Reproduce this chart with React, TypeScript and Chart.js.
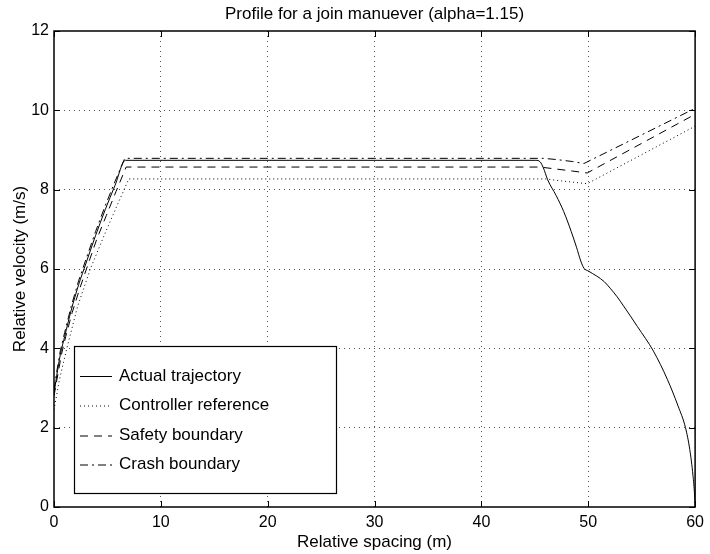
import React, { useEffect, useRef } from "react";
import { Chart, registerables } from "chart.js";

Chart.register(...registerables);

const titleText = "Profile for a join manuever (alpha=1.15)";
const xLabel = "Relative spacing (m)";
const yLabel = "Relative velocity (m/s)";
const xTicks = [0, 10, 20, 30, 40, 50, 60];
const yTicks = [0, 2, 4, 6, 8, 10, 12];

const actualX = [0, 0.25, 0.6, 1.0, 1.6, 2.3, 3.0, 3.9, 4.8, 5.7, 6.69, 45.1, 45.5, 45.8, 46.2, 47.0, 47.7, 48.4, 48.9, 49.3, 49.6, 50.0, 50.8, 51.5, 52.1, 52.7, 53.3, 54.6, 56.1, 57.4, 58.4, 59.1, 59.5, 59.8, 59.95, 60];
const actualY = [2.85, 3.3, 3.85, 4.3, 4.95, 5.6, 6.15, 6.85, 7.5, 8.1, 8.74, 8.74, 8.7, 8.55, 8.25, 7.85, 7.45, 6.95, 6.55, 6.2, 6.02, 5.95, 5.82, 5.68, 5.5, 5.3, 5.07, 4.55, 3.93, 3.22, 2.55, 2.0, 1.45, 0.8, 0.3, 0];

const refX = [0, 0.5, 1.2, 2.2, 3.4, 4.7, 5.9, 7.0, 46.0, 47.5, 49.9, 60];
const refY = [2.45, 3.2, 4.0, 5.05, 6.0, 6.85, 7.6, 8.27, 8.27, 8.22, 8.15, 9.6];

const safeX = [0, 0.3, 0.7, 1.1, 1.7, 2.4, 3.1, 4.0, 4.9, 5.8, 6.75, 45.5, 47.0, 48.5, 49.9, 60];
const safeY = [2.8, 3.25, 3.85, 4.3, 4.9, 5.5, 6.05, 6.75, 7.35, 7.95, 8.57, 8.57, 8.52, 8.47, 8.42, 9.9];

const crashX = [0, 0.25, 0.6, 1.0, 1.6, 2.3, 3.0, 3.9, 4.8, 5.7, 6.62, 45.8, 47.0, 48.5, 49.6, 60];
const crashY = [2.95, 3.4, 3.95, 4.4, 5.05, 5.7, 6.25, 6.95, 7.6, 8.2, 8.79, 8.79, 8.76, 8.71, 8.66, 10.05];

const seriesNames = ["Actual trajectory", "Controller reference", "Safety boundary", "Crash boundary"];
const seriesDash: number[][] = [[], [1, 3], [8, 6], [8, 4, 2, 4]];

const FONT = "'Liberation Sans', Arial, Helvetica, sans-serif";

function pts(xs: number[], ys: number[]) {
  return xs.map((x, i) => ({ x, y: ys[i] }));
}

const framePlugin = {
  id: "frame",
  afterDatasetsDraw(chart: any) {
    const { ctx, chartArea: a, scales } = chart;
    const xs = scales.x;
    const ys = scales.y;
    ctx.save();
    // title
    ctx.fillStyle = "#000";
    ctx.font = `17px ${FONT}`;
    ctx.textAlign = "center";
    ctx.textBaseline = "middle";
    ctx.fillText(titleText, (a.left + a.right) / 2, 14);
    // legend
    const lx = 74, ly = 346, lw = 262, lh = 147;
    ctx.fillStyle = "#fff";
    ctx.fillRect(lx, ly, lw, lh);
    ctx.strokeStyle = "#000";
    ctx.lineWidth = 1.2;
    ctx.strokeRect(lx + 0.5, ly + 0.5, lw, lh);
    const rows = [376, 405.5, 435.5, 464.5];
    ctx.font = `17px ${FONT}`;
    ctx.textBaseline = "middle";
    ctx.textAlign = "left";
    seriesNames.forEach((name, i) => {
      ctx.beginPath();
      ctx.setLineDash(seriesDash[i]);
      ctx.lineWidth = 1;
      ctx.strokeStyle = "#000";
      ctx.moveTo(80, rows[i] + 0.5);
      ctx.lineTo(112, rows[i] + 0.5);
      ctx.stroke();
      ctx.setLineDash([]);
      ctx.fillStyle = "#000";
      ctx.fillText(name, 119, rows[i]);
    });
    // box
    ctx.setLineDash([]);
    ctx.strokeStyle = "#000";
    ctx.lineWidth = 1.5;
    ctx.strokeRect(a.left, a.top, a.right - a.left, a.bottom - a.top);
    // inward ticks
    const tl = 6;
    ctx.lineWidth = 1;
    ctx.beginPath();
    xTicks.forEach((v) => {
      const p = Math.round(xs.getPixelForValue(v)) + 0.5;
      ctx.moveTo(p, a.bottom);
      ctx.lineTo(p, a.bottom - tl);
      ctx.moveTo(p, a.top);
      ctx.lineTo(p, a.top + tl);
    });
    yTicks.forEach((v) => {
      const p = Math.round(ys.getPixelForValue(v)) + 0.5;
      ctx.moveTo(a.left, p);
      ctx.lineTo(a.left + tl, p);
      ctx.moveTo(a.right, p);
      ctx.lineTo(a.right - tl, p);
    });
    ctx.stroke();
    ctx.restore();
  },
};

export default function App() {
  const ref = useRef<HTMLCanvasElement | null>(null);
  useEffect(() => {
    if (!ref.current) return;
    const mk = (xs: number[], ys: number[], i: number, smooth = false) => ({
      label: seriesNames[i],
      data: pts(xs, ys),
      borderColor: "#000",
      borderWidth: 1,
      borderDash: seriesDash[i],
      pointRadius: 0,
      fill: false,
      tension: 0,
      cubicInterpolationMode: smooth ? "monotone" : "default",
    });
    const chart = new Chart(ref.current, {
      type: "line",
      data: {
        datasets: [
          mk(actualX, actualY, 0, true),
          mk(refX, refY, 1),
          mk(safeX, safeY, 2),
          mk(crashX, crashY, 3),
        ],
      },
      options: {
        animation: false,
        responsive: false,
        devicePixelRatio: 1,
        layout: { padding: { left: 0, right: 12, top: 31, bottom: 0 } },
        plugins: {
          legend: { display: false },
          tooltip: { enabled: false },
          title: { display: false },
        },
        scales: {
          x: {
            type: "linear",
            min: 0,
            max: 60,
            afterBuildTicks: (s: any) => {
              s.ticks = xTicks.map((v) => ({ value: v }));
            },
            afterFit: (s: any) => {
              s.height = 47;
            },
            ticks: { color: "#000", font: { family: FONT, size: 16 }, padding: 6, maxRotation: 0 },
            grid: {
              color: (c: any) => (c.tick && (c.tick.value === 0 || c.tick.value === 60) ? "rgba(0,0,0,0)" : "#555"),
              drawTicks: false,
              lineWidth: 1,
            },
            border: { display: false, dash: [1, 4] },
            title: {
              display: true,
              text: xLabel,
              color: "#000",
              font: { family: FONT, size: 17 },
              padding: { top: 0, bottom: 1 },
            },
          },
          y: {
            type: "linear",
            min: 0,
            max: 12,
            afterBuildTicks: (s: any) => {
              s.ticks = yTicks.map((v) => ({ value: v }));
            },
            afterFit: (s: any) => {
              s.width = 54;
            },
            ticks: { color: "#000", font: { family: FONT, size: 16 }, padding: 5 },
            grid: {
              color: (c: any) => (c.tick && (c.tick.value === 0 || c.tick.value === 12) ? "rgba(0,0,0,0)" : "#555"),
              drawTicks: false,
              lineWidth: 1,
            },
            border: { display: false, dash: [1, 4] },
            title: {
              display: true,
              text: yLabel,
              color: "#000",
              font: { family: FONT, size: 17 },
              padding: { top: 10, bottom: 0 },
            },
          },
        },
      },
      plugins: [framePlugin],
    } as any);
    return () => chart.destroy();
  }, []);
  return (
    <div style={{ position: "absolute", left: 0, top: 0, width: 710, height: 554, background: "#fff" }}>
      <canvas ref={ref} width={710} height={554} style={{ display: "block", width: 710, height: 554 }} />
    </div>
  );
}
